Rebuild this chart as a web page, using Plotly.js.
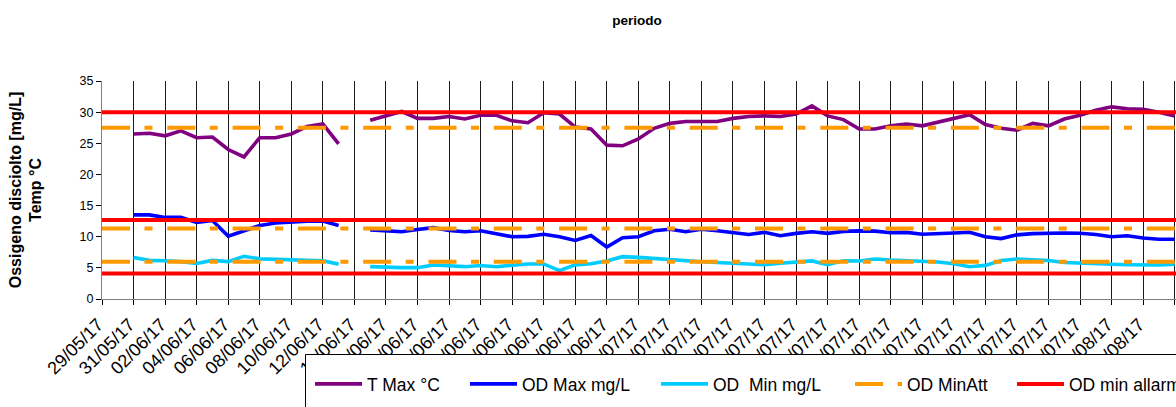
<!DOCTYPE html>
<html>
<head>
<meta charset="utf-8">
<script src="https://cdn.plot.ly/plotly-3.0.1.min.js"></script>
<style>
  html, body { margin: 0; padding: 0; background: #fff; }
  #chart { width: 1176px; height: 407px; }
</style>
</head>
<body>
<div id="chart"></div>
<script>
// ---- Data ----
const dates = [
  '2017-05-31',
  '2017-06-01','2017-06-02','2017-06-03','2017-06-04','2017-06-05','2017-06-06','2017-06-07','2017-06-08','2017-06-09','2017-06-10',
  '2017-06-11','2017-06-12','2017-06-13','2017-06-14','2017-06-15','2017-06-16','2017-06-17','2017-06-18','2017-06-19','2017-06-20',
  '2017-06-21','2017-06-22','2017-06-23','2017-06-24','2017-06-25','2017-06-26','2017-06-27','2017-06-28','2017-06-29','2017-06-30',
  '2017-07-01','2017-07-02','2017-07-03','2017-07-04','2017-07-05','2017-07-06','2017-07-07','2017-07-08','2017-07-09','2017-07-10',
  '2017-07-11','2017-07-12','2017-07-13','2017-07-14','2017-07-15','2017-07-16','2017-07-17','2017-07-18','2017-07-19','2017-07-20',
  '2017-07-21','2017-07-22','2017-07-23','2017-07-24','2017-07-25','2017-07-26','2017-07-27','2017-07-28','2017-07-29','2017-07-30',
  '2017-07-31',
  '2017-08-01','2017-08-02','2017-08-03','2017-08-04','2017-08-05'
];

const tMax = [
  26.5,
  26.6, 26.2, 27.0, 25.9, 26.0, 24.0, 22.8, 25.9, 25.9, 26.5,
  27.7, 28.1, 24.9, null, 28.7, 29.4, 30.1, 29.0, 29.0, 29.3,
  28.9, 29.5, 29.5, 28.6, 28.3, 29.9, 29.7, 27.6, 27.3, 24.7,
  24.6, 25.7, 27.4, 28.2, 28.5, 28.5, 28.5, 29.0, 29.3, 29.4,
  29.3, 29.7, 31.0, 29.4, 28.8, 27.3, 27.3, 27.8, 28.1, 27.8,
  28.4, 29.0, 29.6, 28.0, 27.4, 27.1, 28.2, 27.8, 28.9, 29.5,
  30.3,
  30.85, 30.55, 30.45, 30.0, 29.4
];

const odMax = [
  13.5,
  13.5, 13.1, 13.1, 12.3, 12.6, 10.1, 10.9, 11.8, 12.2, 12.4,
  12.5, 12.5, 11.8, null, 11.1, 11.0, 10.8, 11.15, 11.45, 11.0,
  10.8, 10.95, 10.45, 10.0, 10.05, 10.4, 10.0, 9.4, 10.2, 8.35,
  9.85, 10.0, 10.95, 11.2, 10.8, 11.2, 10.97, 10.67, 10.35, 10.7,
  10.15, 10.54, 10.8, 10.54, 10.85, 10.93, 10.9, 10.65, 10.7, 10.4,
  10.45, 10.6, 10.72, 10.0, 9.7, 10.3, 10.5, 10.6, 10.6, 10.55,
  10.35,
  10.0, 10.15, 9.8, 9.6, 9.6
];

const odMin = [
  6.65,
  6.2, 6.15, 6.0, 5.7, 6.2, 6.0, 6.85, 6.45, 6.4, 6.26,
  6.2, 6.15, 5.6, null, 5.2, 5.08, 5.03, 5.03, 5.45, 5.35,
  5.19, 5.38, 5.19, 5.43, 5.63, 5.63, 4.55, 5.48, 5.65, 6.1,
  6.8, 6.68, 6.5, 6.28, 6.05, 5.97, 5.86, 5.78, 5.65, 5.5,
  5.75, 5.88, 6.12, 5.5, 6.15, 6.1, 6.42, 6.26, 6.15, 6.0,
  5.95, 5.65, 5.19, 5.4, 6.18, 6.43, 6.3, 6.18, 5.86, 5.72,
  5.65,
  5.58, 5.5, 5.45, 5.45, 5.58
];

// constant reference levels
const odMinAttLevels = [27.5, 11.3, 6.0];
const odMinAllarmeLevels = [30.0, 12.7, 4.1];
const refStart = '2017-05-29';
const refEnd = '2017-08-07';

const seriesNames = ['T Max °C', 'OD Max mg/L', 'OD  Min mg/L', 'OD MinAtt', 'OD min allarme'];
const tickStart = '2017-05-29';

// ---- build helpers ----
function levelLine(levels) {
  const x = [], y = [];
  levels.forEach((v, i) => {
    if (i > 0) { x.push(null); y.push(null); }
    x.push(refStart, refEnd);
    y.push(v, v);
  });
  return {x, y};
}

const att = levelLine(odMinAttLevels);
const allarme = levelLine(odMinAllarmeLevels);

const FONT = 'Arial, "Liberation Sans", Helvetica, sans-serif';
const LW = 3.6;

const traces = [
  {x: dates, y: tMax, name: seriesNames[0], type: 'scatter', mode: 'lines',
   line: {color: '#800080', width: LW}, legendwidth: 93},
  {x: dates, y: odMax, name: seriesNames[1], type: 'scatter', mode: 'lines',
   line: {color: '#0000FF', width: LW}, legendwidth: 129},
  {x: dates, y: odMin, name: seriesNames[2], type: 'scatter', mode: 'lines',
   line: {color: '#00CCFF', width: LW}, legendwidth: 132},
  {x: att.x, y: att.y, name: seriesNames[3], type: 'scatter', mode: 'lines',
   line: {color: '#FF9900', width: 4, dash: '28px,14.5px,8px,14.8px'}, legendwidth: 100},
  {x: allarme.x, y: allarme.y, name: seriesNames[4], type: 'scatter', mode: 'lines',
   line: {color: '#FF0000', width: 4}}
];

// plot area geometry in pixels (used to place the legend box)
const PLOT_L = 102, PLOT_W = 1074, PLOT_B = 299, PLOT_H = 218;
const LEG_BOX_L = 305.5, LEG_BOX_T = 354.5;

const layout = {
  width: 1176,
  height: 407,
  margin: {l: PLOT_L, r: 0, t: 81, b: 108, autoexpand: false},
  paper_bgcolor: '#ffffff',
  plot_bgcolor: '#ffffff',
  font: {family: FONT, color: '#000000', size: 12},
  title: {
    text: 'periodo',
    font: {family: FONT, size: 13.5, color: '#000000', weight: 'bold'},
    x: 637 / 1176, xref: 'container', xanchor: 'center',
    y: 1 - 20 / 407, yref: 'container', yanchor: 'middle'
  },
  xaxis: {
    type: 'date',
    range: ['2017-05-29', '2017-08-05 02:00'],
    tick0: tickStart,
    dtick: 2 * 86400000,
    tickformat: '%d/%m/%y',
    tickangle: -45,
    tickfont: {family: FONT, size: 18, color: '#000000'},
    ticklabelstandoff: 2,
    ticklabelshift: -4,
    showgrid: true,
    gridcolor: '#1a1a1a',
    gridwidth: 1,
    showline: true,
    linecolor: '#808080',
    linewidth: 1,
    ticks: 'outside',
    ticklen: 5,
    tickcolor: '#000000',
    zeroline: false,
    automargin: false
  },
  yaxis: {
    range: [0, 35],
    dtick: 5,
    tick0: 0,
    showgrid: false,
    showline: true,
    linecolor: '#808080',
    linewidth: 1,
    ticks: 'outside',
    ticklen: 5,
    tickcolor: '#000000',
    tickfont: {family: FONT, size: 12.5, color: '#000000'},
    zeroline: false,
    automargin: false,
    title: {
      text: 'Ossigeno disciolto [mg/L]<br>Temp °C',
      font: {family: FONT, size: 16, color: '#000000', weight: 'bold'},
      standoff: 33
    }
  },
  shapes: [{
    type: 'rect', xref: 'paper', yref: 'paper', layer: 'above',
    x0: (LEG_BOX_L - PLOT_L) / PLOT_W, x1: 1.3,
    y0: (PLOT_B - LEG_BOX_T) / PLOT_H, y1: -1.2,
    fillcolor: '#ffffff',
    line: {color: '#000000', width: 1}
  }],
  showlegend: true,
  legend: {
    orientation: 'h',
    x: (310 - PLOT_L) / PLOT_W,
    xanchor: 'left',
    y: (PLOT_B - 366) / PLOT_H,
    yanchor: 'top',
    bgcolor: 'rgba(0,0,0,0)',
    borderwidth: 0,
    itemwidth: 47,
    traceorder: 'normal',
    font: {family: FONT, size: 17.5, color: '#000000'}
  }
};

Plotly.newPlot('chart', traces, layout, {displayModeBar: false, staticPlot: true});
</script>
</body>
</html>
